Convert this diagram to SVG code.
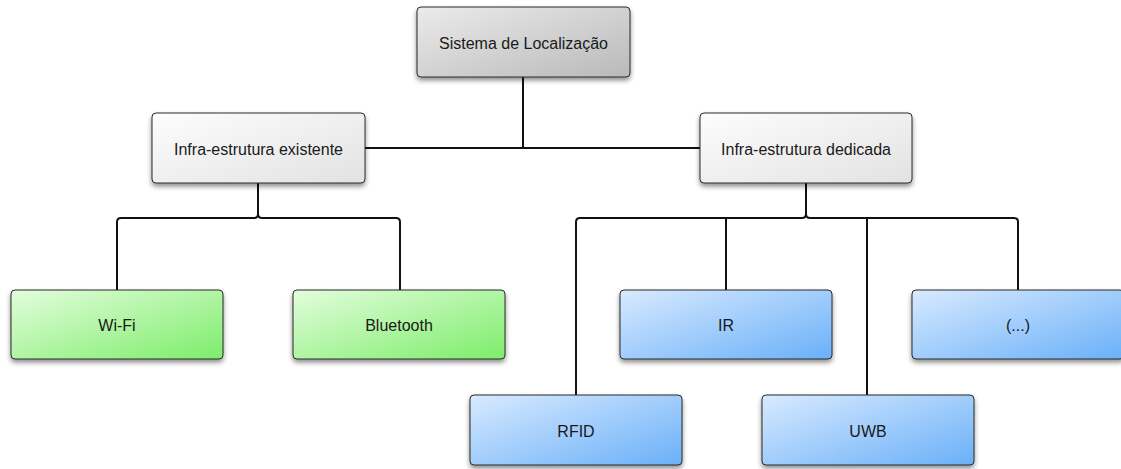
<svg xmlns="http://www.w3.org/2000/svg" width="1121" height="469" viewBox="0 0 1121 469">
<style>
.box{stroke:#2a2a2a;stroke-width:1;filter:url(#sh)}
.lbl{font-family:"Liberation Sans",Arial,sans-serif;font-size:16px;fill:#1a1a1a;text-anchor:middle;dominant-baseline:central}
.con{fill:none;stroke:#111;stroke-width:2}
</style>
<defs>
<filter id="sh" x="-10%" y="-20%" width="125%" height="150%">
<feGaussianBlur in="SourceAlpha" stdDeviation="2.5"/>
<feOffset dx="0" dy="3" result="b"/>
<feComponentTransfer><feFuncA type="linear" slope="0.45"/></feComponentTransfer>
<feMerge><feMergeNode/><feMergeNode in="SourceGraphic"/></feMerge>
</filter>
<linearGradient id="gGray" x1="0" y1="0" x2="1" y2="1"><stop offset="0" stop-color="#ebebeb"/><stop offset="1" stop-color="#b9b9b9"/></linearGradient>
<linearGradient id="gLight" x1="0" y1="0" x2="1" y2="1"><stop offset="0" stop-color="#fdfdfd"/><stop offset="1" stop-color="#e2e2e2"/></linearGradient>
<linearGradient id="gGreen" x1="0" y1="0" x2="1" y2="1"><stop offset="0" stop-color="#e3fddd"/><stop offset="1" stop-color="#7ded6a"/></linearGradient>
<linearGradient id="gBlue" x1="0" y1="0" x2="1" y2="1"><stop offset="0" stop-color="#d8eaff"/><stop offset="1" stop-color="#6ab0f8"/></linearGradient>
</defs>
<g id="connectors">
<path class="con" d="M523,77 V148 M365,148 H700"/>
<path class="con" d="M258,183 V214 Q258,218 254,218 H121 Q117,218 117,222 V290 M262,218 Q258,218 258,214 M262,218 H396 Q400,218 400,222 V290"/>
<path class="con" d="M806,183 V214 Q806,218 802,218 H580 Q576,218 576,222 V395 M810,218 Q806,218 806,214 M810,218 H1014 Q1018,218 1018,222 V290 M726,218 V290 M867,218 V395"/>
</g>
<g id="n-sistema"><rect class="box" x="417" y="7" width="213" height="70" rx="4" fill="url(#gGray)"/><text class="lbl" x="523.5" y="43">Sistema de Localização</text></g>
<g id="n-existente"><rect class="box" x="152" y="113" width="213" height="70" rx="4" fill="url(#gLight)"/><text class="lbl" x="258.5" y="149">Infra-estrutura existente</text></g>
<g id="n-dedicada"><rect class="box" x="700" y="113" width="212" height="70" rx="4" fill="url(#gLight)"/><text class="lbl" x="806" y="149">Infra-estrutura dedicada</text></g>
<g id="n-wifi"><rect class="box" x="11" y="290" width="212" height="69" rx="4" fill="url(#gGreen)"/><text class="lbl" x="117" y="325.5">Wi-Fi</text></g>
<g id="n-bluetooth"><rect class="box" x="293" y="290" width="212" height="69" rx="4" fill="url(#gGreen)"/><text class="lbl" x="399" y="325.5">Bluetooth</text></g>
<g id="n-ir"><rect class="box" x="620" y="290" width="212" height="69" rx="4" fill="url(#gBlue)"/><text class="lbl" x="726" y="325.5">IR</text></g>
<g id="n-etc"><rect class="box" x="912" y="290" width="212" height="69" rx="4" fill="url(#gBlue)"/><text class="lbl" x="1018" y="325.5">(...)</text></g>
<g id="n-rfid"><rect class="box" x="470" y="395" width="212" height="70" rx="4" fill="url(#gBlue)"/><text class="lbl" x="576" y="431">RFID</text></g>
<g id="n-uwb"><rect class="box" x="762" y="395" width="212" height="70" rx="4" fill="url(#gBlue)"/><text class="lbl" x="868" y="431">UWB</text></g>
</svg>
